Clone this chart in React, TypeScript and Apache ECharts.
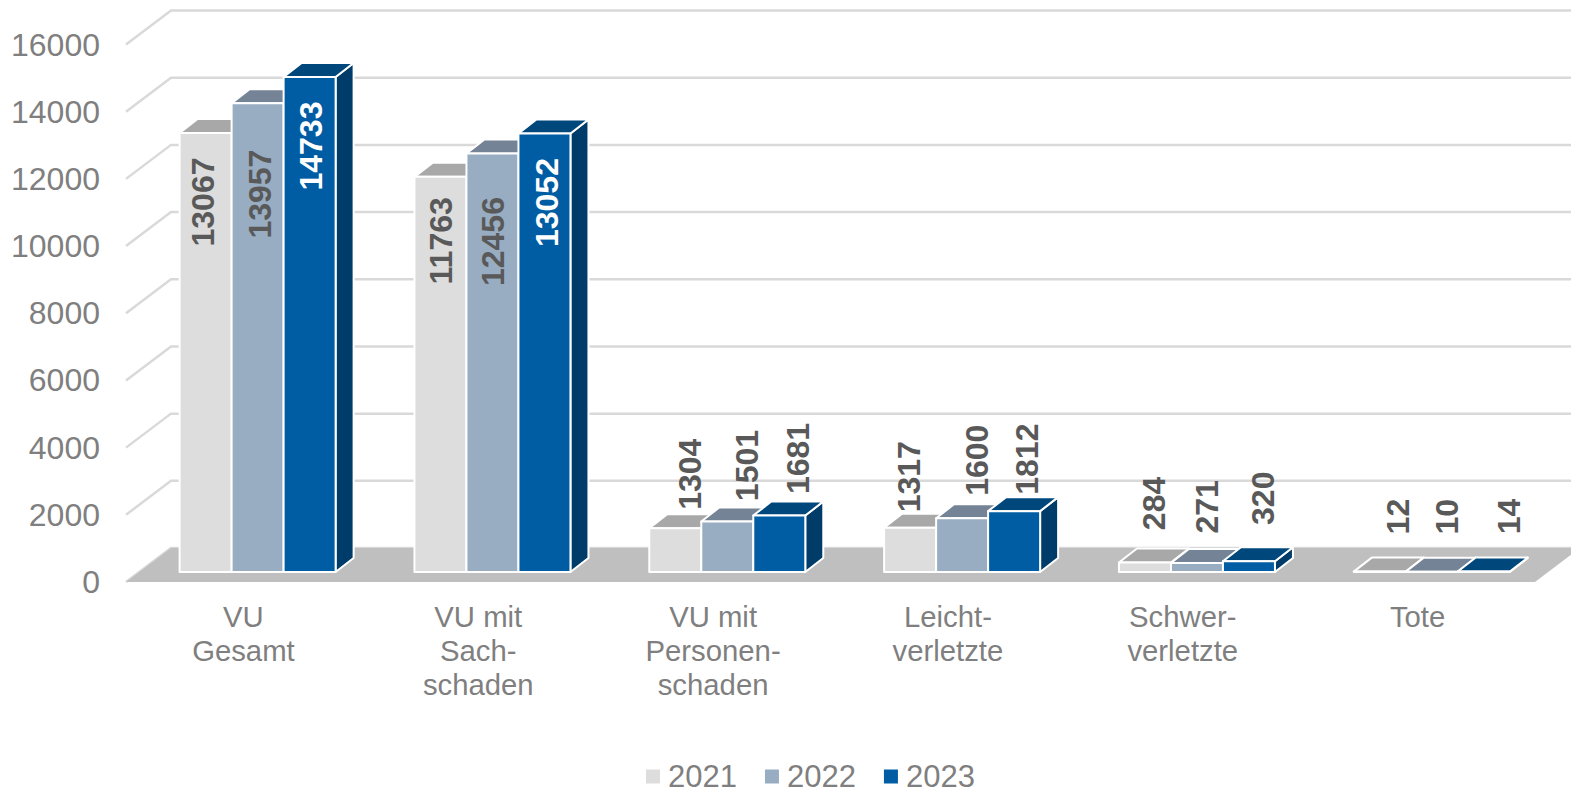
import React, { useEffect, useRef } from "react";
import * as echarts from "echarts";

const categories = ["VU\nGesamt", "VU mit\nSach-\nschaden", "VU mit\nPersonen-\nschaden", "Leicht-\nverletzte", "Schwer-\nverletzte", "Tote"];
const years = ["2021", "2022", "2023"];
const values2021 = [13067, 11763, 1304, 1317, 284, 12];
const values2022 = [13957, 12456, 1501, 1600, 271, 10];
const values2023 = [14733, 13052, 1681, 1812, 320, 14];
const yTicks = [0, 2000, 4000, 6000, 8000, 10000, 12000, 14000, 16000];

const frontColors = ["#DDDDDD", "#98ACC2", "#005CA3"];
const topColors = ["#A8A8A8", "#748396", "#00477C"];
const sideColors = ["#A0A0A0", "#6C7A8C", "#003C69"];

// hand-placed label offsets from the top-centre of each bar's front face
const labelDx = [
  [-3, 1, 15, -1, 9, 18],
  [2, 1, 20, 15, 10, 15],
  [1, 3, 19, 13, 14, 25],
];
const labelDy = [
  [69, 64, -54, -51, -59, -55],
  [91, 88, -56, -58, -56, -55],
  [69, 69, -57, -52, -63, -55],
];
const labelColors = [
  ["#595959", "#595959", "#595959", "#595959", "#595959", "#595959"],
  ["#595959", "#595959", "#595959", "#595959", "#595959", "#595959"],
  ["#FFFFFF", "#FFFFFF", "#595959", "#595959", "#595959", "#595959"],
];

const FONT = '"Liberation Sans", Arial, sans-serif';
const WALL_DX = 45;
const WALL_DY = 34;
const FLOOR_DX = 14.2;
const FLOOR_DY = 10;
const BAR_DX = 18;
const BAR_DY = 14;
const BAR_RATIO = 52 / 234.83;

function barSeries(seriesIndex: number, values: number[]) {
  return {
    type: "custom",
    name: years[seriesIndex],
    coordinateSystem: "cartesian2d",
    itemStyle: { color: frontColors[seriesIndex] },
    data: values.map((v, i) => [i, v]),
    encode: { x: 0, y: 1 },
    z: 3 + seriesIndex,
    renderItem: (_params: any, api: any) => {
      const cat = api.value(0);
      const val = api.value(1);
      const top = api.coord([cat, val]);
      const base = api.coord([cat, 0]);
      const w = api.size([1, 0])[0] * BAR_RATIO;
      const x0 = top[0] + FLOOR_DX + (seriesIndex - 1.5) * w;
      const x1 = x0 + w;
      const yT = top[1] - FLOOR_DY;
      const yB = base[1] - FLOOR_DY;
      const stroke = { stroke: "#FFFFFF", lineWidth: 2, lineJoin: "round" };
      return {
        type: "group",
        children: [
          {
            type: "polygon",
            shape: { points: [[x1, yT], [x1 + BAR_DX, yT - BAR_DY], [x1 + BAR_DX, yB - BAR_DY], [x1, yB]] },
            style: { fill: sideColors[seriesIndex], ...stroke },
          },
          {
            type: "polygon",
            shape: { points: [[x0, yT], [x0 + BAR_DX, yT - BAR_DY], [x1 + BAR_DX, yT - BAR_DY], [x1, yT]] },
            style: { fill: topColors[seriesIndex], ...stroke },
          },
          {
            type: "rect",
            shape: { x: x0, y: yT, width: w, height: yB - yT },
            style: { fill: frontColors[seriesIndex], ...stroke },
          },
          {
            type: "text",
            x: x0 + w / 2 + labelDx[seriesIndex][cat],
            y: yT + labelDy[seriesIndex][cat],
            rotation: Math.PI / 2,
            z2: 1000,
            style: {
              text: String(val),
              font: `bold 32px ${FONT}`,
              fill: labelColors[seriesIndex][cat],
              align: "center",
              verticalAlign: "middle",
            },
          },
        ],
      };
    },
  };
}

export default function App() {
  const ref = useRef<HTMLDivElement>(null);
  useEffect(() => {
    document.body.style.margin = "0";
    const chart = echarts.init(ref.current!, undefined, { renderer: "svg" });
    chart.setOption({
      animation: false,
      backgroundColor: "#FFFFFF",
      legend: {
        data: years,
        left: 646,
        top: 761,
        icon: "rect",
        itemWidth: 14,
        itemHeight: 14,
        itemGap: 28,
        textStyle: { color: "#7F7F7F", fontFamily: FONT, fontSize: 31, lineHeight: 28, padding: [0, 0, 0, 3] },
        selectedMode: false,
        padding: 0,
      },
      grid: { left: 126, right: 36, top: 44.5, bottom: 211, containLabel: false },
      xAxis: {
        type: "category",
        data: categories,
        axisLine: { show: false },
        axisTick: { show: false },
        axisLabel: { color: "#7F7F7F", fontFamily: FONT, fontSize: 29.3, lineHeight: 34, margin: 17.5, interval: 0 },
      },
      yAxis: {
        type: "value",
        min: 0,
        max: 16000,
        interval: 2000,
        axisLine: { show: false },
        axisTick: { show: false },
        splitLine: { show: false },
        axisLabel: {
          color: "#7F7F7F",
          fontFamily: FONT,
          fontSize: 32,
          margin: 26,
          formatter: (v: number) => String(v),
        },
      },
      series: [
        {
          type: "custom",
          name: "wall",
          coordinateSystem: "cartesian2d",
          silent: true,
          z: 1,
          data: yTicks.map((t) => [0, t]),
          encode: { y: 1 },
          renderItem: (params: any, api: any) => {
            const cs = params.coordSys;
            const y = api.coord([0, api.value(1)])[1];
            return {
              type: "polyline",
              shape: {
                points: [
                  [cs.x, y],
                  [cs.x + WALL_DX, y - WALL_DY],
                  [cs.x + cs.width + WALL_DX, y - WALL_DY],
                ],
              },
              style: { fill: "none", stroke: "#D9D9D9", lineWidth: 2.5 },
            };
          },
        },
        {
          type: "custom",
          name: "floor",
          coordinateSystem: "cartesian2d",
          silent: true,
          z: 2,
          data: [[0, 0]],
          encode: { y: 1 },
          renderItem: (params: any, api: any) => {
            const cs = params.coordSys;
            const y = api.coord([0, 0])[1];
            return {
              type: "polygon",
              shape: {
                points: [
                  [cs.x, y],
                  [cs.x + cs.width, y],
                  [cs.x + cs.width + WALL_DX, y - WALL_DY],
                  [cs.x + WALL_DX, y - WALL_DY],
                ],
              },
              style: { fill: "#BFBFBF" },
            };
          },
        },
        barSeries(0, values2021),
        barSeries(1, values2022),
        barSeries(2, values2023),
      ],
    });
    return () => chart.dispose();
  }, []);
  return <div ref={ref} style={{ position: "fixed", left: 0, top: 0, width: 1571, height: 793 }} />;
}
